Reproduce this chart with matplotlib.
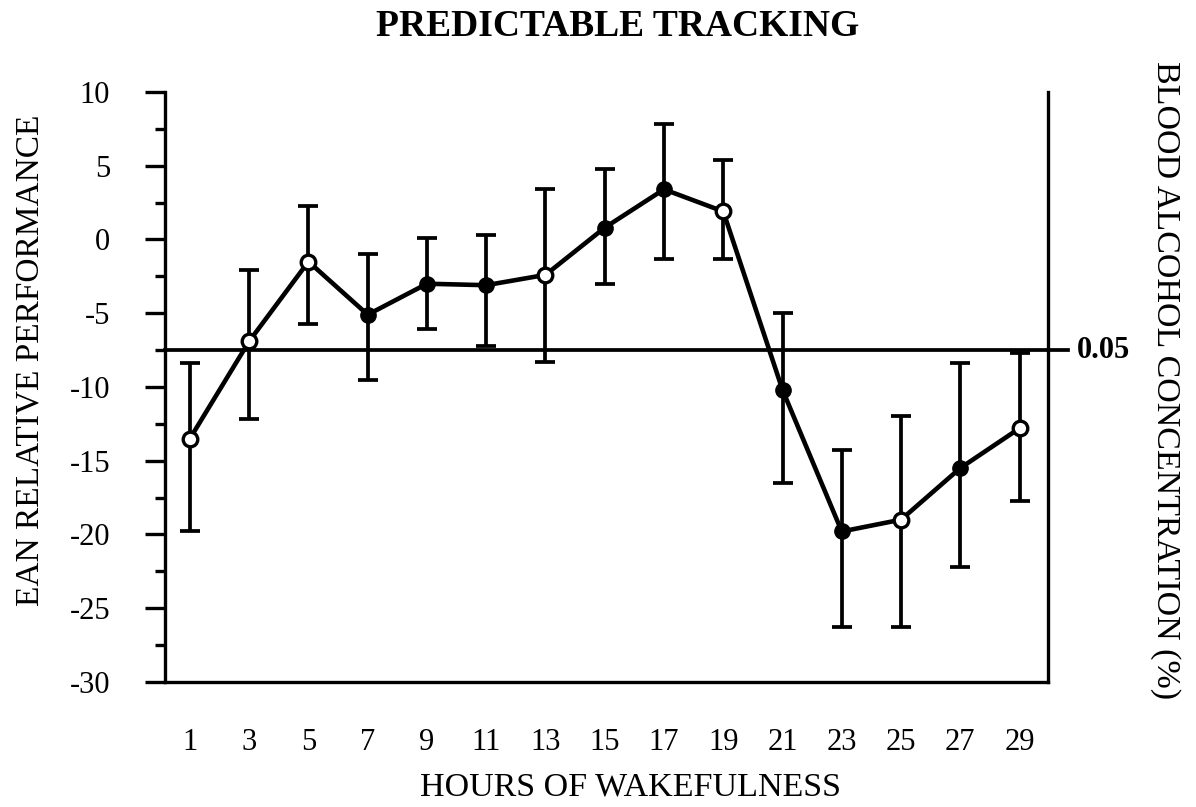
import matplotlib
matplotlib.use('Agg')
import matplotlib.pyplot as plt
import matplotlib.transforms as mtransforms
from matplotlib.ticker import MultipleLocator

plt.rcParams['font.family'] = ['Liberation Serif', 'DejaVu Serif']
plt.rcParams['axes.unicode_minus'] = False

# data
hours = [1, 3, 5, 7, 9, 11, 13, 15, 17, 19, 21, 23, 25, 27, 29]
mean_perf = [-13.5, -6.9, -1.5, -5.1, -3.0, -3.1, -2.4, 0.8, 3.4, 1.9, -10.2, -19.8, -19.0, -15.5, -12.8]
err_top = [-8.4, -2.1, 2.3, -1.0, 0.1, 0.3, 3.4, 4.8, 7.8, 5.4, -5.0, -14.3, -12.0, -8.4, -7.7]
err_bottom = [-19.8, -12.2, -5.7, -9.5, -6.1, -7.2, -8.3, -3.0, -1.3, -1.3, -16.5, -26.3, -26.3, -22.2, -17.7]
filled = [False, False, False, True, True, True, False, True, True, False, True, True, False, True, False]
bac_level = -7.5
bac_label = '0.05'

fig = plt.figure(figsize=(11.96, 8.07), dpi=100)
ax = fig.add_axes([0.138, 0.155, 0.738, 0.731])

lower = [m - b for m, b in zip(mean_perf, err_bottom)]
upper = [t - m for m, t in zip(mean_perf, err_top)]
ax.errorbar(hours, mean_perf, yerr=[lower, upper], fmt='none', ecolor='black',
            elinewidth=2.7, capsize=7.5, capthick=2.7, zorder=2)
ax.plot(hours, mean_perf, color='black', lw=3.3, zorder=3)

xf = [h for h, f in zip(hours, filled) if f]
yf = [m for m, f in zip(mean_perf, filled) if f]
xo = [h for h, f in zip(hours, filled) if not f]
yo = [m for m, f in zip(mean_perf, filled) if not f]
ax.plot(xf, yf, 'o', color='black', ms=11, zorder=4)
ax.plot(xo, yo, 'o', mfc='white', mec='black', mew=2.4, ms=10.5, zorder=4)

# horizontal reference line, running past the right axis
ax.axhline(bac_level, xmin=0, xmax=1.023, color='black', lw=2.7, clip_on=False, zorder=1)
trans = mtransforms.blended_transform_factory(ax.transAxes, ax.transData)
ax.text(1.033, bac_level, bac_label, transform=trans, fontsize=22, fontweight='bold',
        va='center', ha='left')

ax.set_xlim(0.16, 29.95)
ax.set_ylim(-30, 10)
ax.set_xticks(hours)
ax.yaxis.set_major_locator(MultipleLocator(5))
ax.yaxis.set_minor_locator(MultipleLocator(2.5))
ax.tick_params(axis='x', length=0, pad=33, labelsize=22)
ax.tick_params(axis='y', which='major', length=14.5, width=2.4, direction='out', pad=25, labelsize=22)
ax.tick_params(axis='y', which='minor', length=7, width=2.4, direction='out')

ax.spines['top'].set_visible(False)
for s in ['left', 'bottom', 'right']:
    ax.spines[s].set_linewidth(2.4)

fig.text(0.527, 0.025, 'HOURS OF WAKEFULNESS', fontsize=24.5, ha='center', va='center')
fig.text(0.025, 0.554, 'EAN RELATIVE PERFORMANCE', rotation=90, fontsize=24,
         ha='center', va='center')
fig.text(0.974, 0.529, 'BLOOD ALCOHOL CONCENTRATION (%)', rotation=-90, fontsize=24.5,
         ha='center', va='center')
fig.text(0.516, 0.967, 'PREDICTABLE TRACKING', fontsize=27, fontweight='bold',
         ha='center', va='center')

fig.savefig('out.png', dpi=100)
